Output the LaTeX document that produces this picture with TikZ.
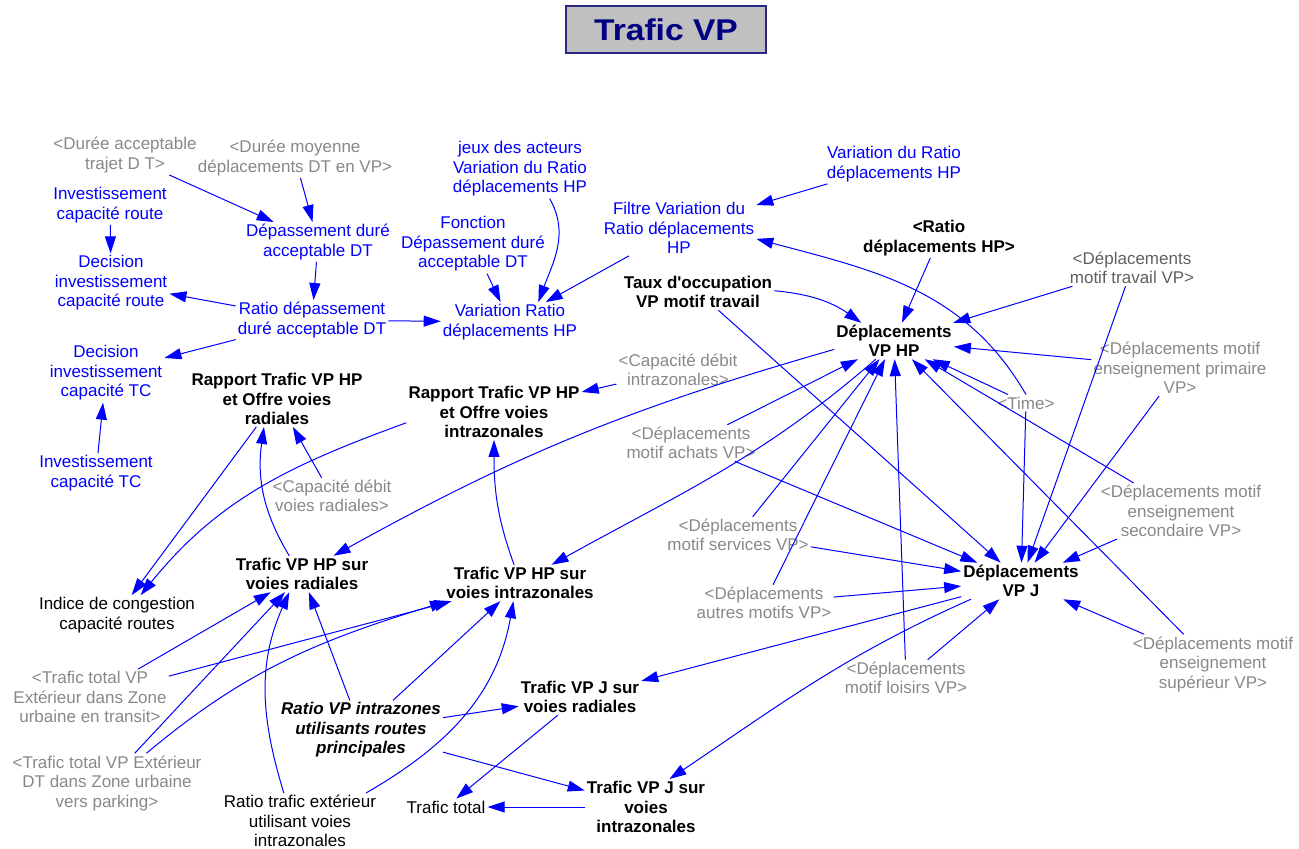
\documentclass[tikz,border=0pt]{standalone}
\usepackage{fontspec}
\usetikzlibrary{arrows.meta}
\newfontfamily\vfont{Liberation Sans}
\definecolor{vblue}{RGB}{0,0,255}
\definecolor{vgray}{RGB}{136,136,136}
\definecolor{vgraydark}{RGB}{96,96,96}
\definecolor{titlefill}{RGB}{192,192,192}
\definecolor{titleedge}{RGB}{40,40,130}
\definecolor{titletext}{RGB}{0,0,128}
\tikzset{
  x=1pt, y=1pt,
  base/.style={align=center, inner sep=2pt, font=\vfont\fontsize{17}{19.5}\selectfont},
  aux/.style={base, text=vgray},
  auxdark/.style={base, text=vgraydark},
  ctrl/.style={base, text=vblue},
  plain/.style={base, text=black},
  var/.style={align=center, inner sep=2pt, text=black, font=\vfont\bfseries\fontsize{17}{19.5}\selectfont},
  varit/.style={var, font=\vfont\bfseries\itshape\fontsize{17}{19.5}\selectfont},
  link/.style={draw=vblue, line width=1pt, -{Triangle[length=17pt,width=11pt]}},
  titlebox/.style={draw=titleedge, line width=1.5pt, fill=titlefill, minimum width=200pt, minimum height=47pt,
    text=titletext, font=\vfont\bfseries\fontsize{30}{32}\selectfont},
}
\begin{document}
\begin{tikzpicture}
\useasboundingbox (0,0) rectangle (1299,-849);

% title
\node[titlebox] (title) at (666,-29.5) {\scalebox{1.12}[1]{Trafic VP}};

% variables
\node[aux] (dureeAcc) at (125,-155) {<Durée acceptable\\trajet D T>};
\node[aux] (dureeMoy) at (295,-158) {<Durée moyenne\\déplacements DT en VP>};
\node[ctrl] (invRoute) at (110,-205) {Investissement\\capacité route};
\node[ctrl] (depass) at (318,-242) {Dépassement duré\\acceptable DT};
\node[ctrl] (decRoute) at (111,-283) {Decision\\investissement\\capacité route};
\node[ctrl] (ratioDep) at (312,-320) {Ratio dépassement\\duré acceptable DT};
\node[ctrl] (decTC) at (106,-373) {Decision\\investissement\\capacité TC};
\node[ctrl] (invTC) at (96,-473) {Investissement\\capacité TC};
\node[ctrl] (jeux) at (520,-169) {jeux des acteurs\\Variation du Ratio\\déplacements HP};
\node[ctrl] (fonction) at (473,-244) {Fonction\\Dépassement duré\\acceptable DT};
\node[ctrl] (varRatio) at (510,-322) {Variation Ratio\\déplacements HP};
\node[ctrl] (filtre) at (679,-228) {Filtre Variation du\\Ratio déplacements\\HP};
\node[ctrl] (varDuRatio) at (894,-164) {Variation du Ratio\\déplacements HP};
\node[var] (ratioHP) at (939,-238) {<Ratio\\déplacements HP>};
\node[var] (taux) at (698,-292) {Taux d'occupation\\VP motif travail};
\node[auxdark] (depTravail) at (1132,-268) {<Déplacements\\motif travail VP>};
\node[var] (depHP) at (894,-341) {Déplacements\\VP HP};
\node[aux] (capIntra) at (678,-370) {<Capacité débit\\intrazonales>};
\node[aux] (depPrim) at (1180,-368) {<Déplacements motif\\enseignement primaire\\VP>};
\node[aux] (time) at (1026,-403) {<Time>};
\node[var] (rapRad) at (277,-399) {Rapport Trafic VP HP\\et Offre voies\\radiales};
\node[var] (rapIntra) at (494,-412) {Rapport Trafic VP HP\\et Offre voies\\intrazonales};
\node[aux] (depAchats) at (691,-443) {<Déplacements\\motif achats VP>};
\node[aux] (capRad) at (332,-496) {<Capacité débit\\voies radiales>};
\node[aux] (depSec) at (1181,-511) {<Déplacements motif\\enseignement\\secondaire VP>};
\node[aux] (depServ) at (738,-535) {<Déplacements\\motif services VP>};
\node[var] (trafRad) at (302,-574) {Trafic VP HP sur\\voies radiales};
\node[var] (trafIntra) at (520,-583) {Trafic VP HP sur\\voies intrazonales};
\node[var] (depJ) at (1021,-581) {Déplacements\\VP J};
\node[plain] (indice) at (117,-615) {Indice de congestion\\capacité routes};
\node[aux] (depAutres) at (764,-603) {<Déplacements\\autres motifs VP>};
\node[aux] (trTransit) at (90,-697) {<Trafic total VP\\Extérieur dans Zone\\urbaine en transit>};
\node[aux] (depSup) at (1213,-664) {<Déplacements motif\\enseignement\\supérieur VP>};
\node[aux] (depLoisirs) at (906,-678) {<Déplacements\\motif loisirs VP>};
\node[var] (trafJRad) at (580,-697) {Trafic VP J sur\\voies radiales};
\node[varit] (ratioVP) at (361,-730) {Ratio VP intrazones\\utilisants routes\\principales};
\node[aux] (trParking) at (107,-783) {<Trafic total VP Extérieur\\DT dans Zone urbaine\\vers parking>};
\node[var] (trafJIntra) at (646,-807) {Trafic VP J sur\\voies\\intrazonales};
\node[plain] (trafTotal) at (446,-807) {Trafic total};
\node[plain] (ratioTrafExt) at (300,-821) {Ratio trafic extérieur\\utilisant voies\\intrazonales};

% investment and overrun loop
\draw[link] (dureeAcc) -- (depass);
\draw[link] (dureeMoy) -- (depass);
\draw[link] (invRoute) -- (decRoute);
\draw[link] (depass) -- (ratioDep);
\draw[link] (ratioDep) -- (decRoute);
\draw[link] (ratioDep) -- (decTC);
\draw[link] (invTC) -- (decTC);
\draw[link] (ratioDep) -- (varRatio);
\draw[link] (fonction) -- (varRatio);
\draw[link] (jeux.-45) to[out=-60,in=70] (varRatio.35);
\draw[link] (filtre) -- (varRatio);
\draw[link] (varDuRatio) -- (filtre);
\draw[link] (time.north) to[out=120,in=-15] (filtre.-8);

% peak-hour trips
\draw[link] (ratioHP) -- (depHP);
\draw[link] (depTravail) -- (depHP);
\draw[link] (taux) to[bend left=15] (depHP);
\draw[link] (depPrim) -- (depHP);
\draw[link] (time) -- (depHP);
\draw[link] (depSec) -- (depHP);
\draw[link] (depSup) -- (depHP);
\draw[link] (depLoisirs) -- (depHP);
\draw[link] (depAutres) -- (depHP);
\draw[link] (depServ) -- (depHP);
\draw[link] (depAchats) -- (depHP);
\draw[link] (depHP.188) to[out=196,in=29] (trafRad.30);
\draw[link] (depHP.225) to[out=221,in=29] (trafIntra.30);

% daily trips
\draw[link] (taux) -- (depJ);
\draw[link] (depTravail) -- (depJ);
\draw[link] (depPrim) -- (depJ);
\draw[link] (time) -- (depJ);
\draw[link] (depSec) -- (depJ);
\draw[link] (depSup) -- (depJ);
\draw[link] (depLoisirs) -- (depJ);
\draw[link] (depAutres) -- (depJ);
\draw[link] (depServ) -- (depJ);
\draw[link] (depAchats) -- (depJ);
\draw[link] (depJ) -- (trafJRad);
\draw[link] (depJ.200) to[out=204,in=34] (trafJIntra.50);

% road capacity ratios
\draw[link] (capIntra) -- (rapIntra);
\draw[link] (rapRad) -- (indice);
\draw[link] (rapIntra.187) to[out=200,in=51] (indice.40);
\draw[link] (trafRad.125) to[out=121,in=262] (rapRad.245);
\draw[link] (capRad) -- (rapRad);
\draw[link] (trafIntra.108) to[out=110,in=270] (rapIntra.south);

% traffic on radial and intrazonal roads
\draw[link] (trTransit) -- (trafRad);
\draw[link] (trTransit) -- (trafIntra);
\draw[link] (trParking) -- (trafRad);
\draw[link] (trParking.37) to[out=40,in=197] (trafIntra.194);
\draw[link] (ratioTrafExt.120) to[out=107,in=246] (trafRad.235);
\draw[link] (ratioTrafExt.23) to[out=30,in=260] (trafIntra.250);
\draw[link] (ratioVP) -- (trafRad);
\draw[link] (ratioVP) -- (trafIntra);
\draw[link] (ratioVP) -- (trafJRad);
\draw[link] (ratioVP) -- (trafJIntra);
\draw[link] (trafJRad) -- (trafTotal);
\draw[link] (trafJIntra) -- (trafTotal);
\end{tikzpicture}
\end{document}
